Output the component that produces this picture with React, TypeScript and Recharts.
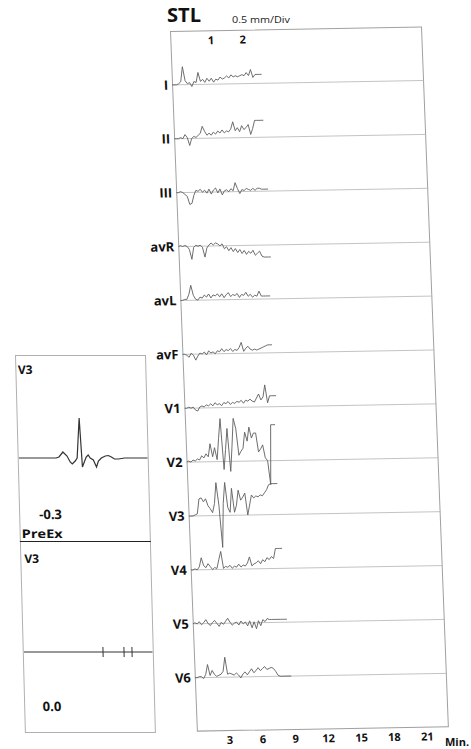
import { LineChart, Line, XAxis, YAxis, ReferenceLine } from 'recharts'

// ST level trend, one lane per lead. minutes shared by all leads.
const minutes = [
  0, 0.2, 0.4, 0.6, 0.8, 1, 1.2, 1.4, 1.6, 1.8, 2, 2.2, 2.4, 2.6, 2.8, 3, 3.2, 3.4, 3.6, 3.8, 4, 4.2,
  4.4, 4.6, 4.8, 5, 5.2, 5.4, 5.6, 5.8, 6, 6.2, 6.4, 6.6, 6.8, 7, 7.2, 7.4, 7.6, 7.8, 8, 8.2, 8.4,
  8.6, 8.8,
]
const leads = ['I', 'II', 'III', 'avR', 'avL', 'avF', 'V1', 'V2', 'V3', 'V4', 'V5', 'V6']

const leadI = [0, 0, 0, 1, 3, 18, 4, 1, 2, -2, 3, 2, 12, 3, 5, 2, 6, 3, 6, 2, 5, 4, 7, 5, 6, 8, 6, 9, 7, 8, 7, 8, 9, 8, 11, 8, 14, 6, 9, 9, 9, 9]
const leadII = [0, 0, 0, 1, 0, 4, 1, -7, 0, 2, 1, 3, 5, 12, 7, 3, 5, 3, 6, 4, 7, 5, 8, 5, 7, 6, 9, 16, 7, 10, 6, 12, 8, 10, 13, 3, 9, 17, 17, 17, 17, 17]
const leadIII = [0, 0, 1, 0, -2, -4, -12, -11, -3, 2, 1, 3, 0, 2, -1, 3, -2, 2, 4, -1, 3, -3, 1, 2, 0, 3, 1, 9, 3, -2, 2, 1, 3, 2, 1, 3, 1, 3, 3, 2, 2, 2, 2]
const leadAvR = [0, 1, 0, 1, 0, -3, -13, -1, 1, 0, 1, -1, -11, -2, 1, 3, 1, 3, 2, 0, 2, -3, -1, -5, -2, -6, -3, -7, -4, -8, -5, -9, -6, -8, -5, -10, -8, -6, -11, -12, -12, -12, -12]
const leadAvL = [0, 0, 1, 1, 6, 15, 5, 1, 0, 3, 2, 5, 3, 6, 2, 5, 4, 6, 3, 6, 2, 5, 7, 3, 5, 4, 6, 2, 5, 4, 7, 3, 5, 2, 4, 3, 8, 3, 3, 3, 3, 3]
const leadAvF = [0, 0, -1, -3, 1, -1, -6, -2, 1, 0, 2, -1, 3, 1, 2, 0, 3, 2, 5, 2, 4, 3, 5, 2, 4, 3, 6, 11, 2, 5, 7, 4, 3, 4, 3, 4, 5, 6, 7, 8, 8, 8]
const leadV1 = [0, 0, 1, 0, 1, -2, -3, 1, 2, 1, 3, 2, 4, 2, 5, 3, 4, 2, 5, 4, 6, 3, 5, 4, 6, 5, 7, 4, 7, 6, 8, 6, 5, 9, 13, 7, 10, 22, 4, 11, 11, 11, 11]
const leadV2 = [0, 1, 0, 2, 1, 3, 2, 6, 4, 8, 5, 18, 5, 14, 2, 23, 43, -8, 12, 33, -10, 15, 43, 33, 6, 10, 13, 29, 20, 34, 23, 28, 28, 9, 12, 16, 3, 0, -24, 36, 36, 36]
const leadV3 = [0, 0, 0, 1, 2, 17, 18, 14, 17, 10, 7, 3, 12, 33, 10, -32, 12, 33, 8, 3, 27, 3, 10, 25, 15, 18, 22, 0, 10, 20, 17, 19, 18, 20, 19, 22, 25, 30, 31, 31, 31, 31]
const leadV4 = [0, 0, 1, 0, 3, 12, 4, 2, 6, 3, 0, 2, 1, 10, 18, 1, 3, 2, 4, 1, 3, 2, 5, 2, 4, 3, 6, 12, 3, 5, 6, 8, 5, 9, 7, 11, 9, 12, 10, 20, 20, 20, 20]
const leadV5 = [0, 1, 0, 2, -1, 1, 4, 0, -2, 1, 3, 0, -3, 1, -1, 2, 5, 1, -2, 0, 1, -2, 2, -1, 1, -3, 2, -5, 1, -6, 2, -3, 3, 1, 4, 3, 3, 3, 3, 3, 3, 3, 3, 3]
const leadV6 = [0, 0, 1, 1, -1, 3, 13, 2, 7, 3, 1, 2, 3, 6, 20, 3, 4, 3, 2, 4, 2, -1, 3, 5, 2, 5, 8, 4, 6, 9, 6, 8, 10, 7, 8, 9, 8, 5, 1, 0, 0, 0, 0, 0, 0]
const traces = [leadI, leadII, leadIII, leadAvR, leadAvL, leadAvF, leadV1, leadV2, leadV3, leadV4, leadV5, leadV6]

const minuteTicks = [3, 6, 9, 12, 15, 18, 21]
const stageMinutes = [3.7, 6.6]
const stageLabels = ['1', '2']

// averaged V3 complex (left inset)
const beatMs = [0, 296, 320, 352, 384, 408, 424, 448, 464, 488, 504, 520, 536, 552, 568, 592, 616, 632, 656, 688, 712, 736, 760, 792, 840, 1024]
const beatMv = [0, 0, 0.04, 0.24, 0.08, -0.16, -0.24, -0.12, 0, 1.6, -0.36, -0.16, 0.04, 0.12, 0, -0.08, -0.36, -0.12, 0, 0.08, 0.1, 0.04, -0.04, -0.04, 0, 0]
const preExMs = [0, 1032]
const preExMv = [0, 0]
const preExMarks = [634, 802, 866]

const LANE = 54
const font = '"Open Sans", sans-serif'

const stlData = minutes.map((t, i) => {
  const row: Record<string, number | null> = { t }
  leads.forEach((lead, k) => {
    const v = traces[k][i]
    row[lead] = v === undefined ? null : v
  })
  return row
})
const beatData = beatMs.map((ms, i) => ({ ms, mv: beatMv[i] }))
const preExData = preExMs.map((ms, i) => ({ ms, mv: preExMv[i] }))

const labelStyle = { fill: '#111', fontSize: 13, fontWeight: 700 }

export default function App() {
  return (
    <div style={{ position: 'absolute', left: 0, top: 0, width: 471, height: 749, overflow: 'hidden', background: '#fff', fontFamily: font }}>
      <svg width={471} height={749} style={{ position: 'absolute', left: 0, top: 0 }}>
        <text x={167} y={22} fontSize={19} fontWeight={700} fill="#111" textLength={34} lengthAdjust="spacingAndGlyphs">STL</text>
        <text x={232} y={22.5} fontSize={8.5} fill="#222" textLength={58} lengthAdjust="spacingAndGlyphs">0.5 mm/Div</text>
        <text x={445} y={746} fontSize={11} fontWeight={700} fill="#111">Min.</text>
      </svg>

      {/* main trend panel, slightly skewed like the scan */}
      <div style={{ position: 'absolute', left: 138, top: 31, width: 286, height: 725, transform: 'rotate(-1deg) skewX(1.2deg)', transformOrigin: '32px 0px' }}>
        <div style={{ position: 'absolute', left: 32, top: 0, width: 252, height: 701, border: '1px solid #a0a0a0', boxSizing: 'border-box' }} />
        <div style={{ position: 'absolute', left: 0, top: 0 }}>
          <LineChart width={286} height={725} data={stlData} margin={{ top: 0, right: 2, bottom: 0, left: 32 }}>
            <XAxis
              dataKey="t"
              type="number"
              domain={[0, 23]}
              ticks={minuteTicks}
              interval={0}
              allowDataOverflow
              axisLine={false}
              tickLine={false}
              tickSize={2}
              tickMargin={3}
              height={24}
              tick={{ fontSize: 11, fontWeight: 700, fill: '#111' }}
            />
            {leads.map((lead, k) => (
              <YAxis key={lead} yAxisId={lead} hide type="number" domain={[-(12 - k) * LANE, (k + 1) * LANE]} allowDataOverflow />
            ))}
            {leads.map((lead) => (
              <ReferenceLine
                key={'b' + lead}
                yAxisId={lead}
                y={0}
                stroke="#b5b5b5"
                strokeWidth={0.8}
                label={{ value: lead, position: 'left', offset: 4, ...labelStyle }}
              />
            ))}
            {stageMinutes.map((m, i) => (
              <ReferenceLine
                key={'s' + i}
                yAxisId="I"
                x={m}
                stroke="none"
                label={{ value: stageLabels[i], position: 'insideTop', offset: 6, fill: '#111', fontSize: 11, fontWeight: 700 }}
              />
            ))}
            {leads.map((lead) => (
              <Line
                key={lead}
                yAxisId={lead}
                dataKey={lead}
                type="linear"
                stroke="#606060"
                strokeWidth={0.9}
                dot={false}
                isAnimationActive={false}
              />
            ))}
          </LineChart>
        </div>
      </div>

      {/* left inset: averaged complex and pre-exercise reference */}
      <div style={{ position: 'absolute', left: 15, top: 355, width: 131, height: 378, border: '1px solid #b0b0b0', boxSizing: 'border-box', transform: 'skewX(1.5deg)', transformOrigin: '0 0' }}>
        <div style={{ position: 'absolute', left: 0, top: 0 }}>
          <LineChart width={129} height={186} data={beatData} margin={{ top: 0, right: 0, bottom: 0, left: 0 }}>
            <XAxis dataKey="ms" type="number" domain={[0, 1024]} hide allowDataOverflow />
            <YAxis type="number" domain={[-3.36, 4.08]} hide allowDataOverflow />
            <Line dataKey="mv" type="linear" stroke="#333" strokeWidth={1.2} dot={false} isAnimationActive={false} />
          </LineChart>
        </div>
        <div style={{ position: 'absolute', left: -1, right: -1, top: 185, borderTop: '1.5px solid #222' }} />
        <div style={{ position: 'absolute', left: 0, top: 186 }}>
          <LineChart width={129} height={191} data={preExData} margin={{ top: 0, right: 0, bottom: 0, left: 0 }}>
            <XAxis dataKey="ms" type="number" domain={[0, 1032]} hide allowDataOverflow />
            <YAxis type="number" domain={[-3.24, 4.4]} hide allowDataOverflow />
            {preExMarks.map((m) => (
              <ReferenceLine key={m} segment={[{ x: m, y: -0.2 }, { x: m, y: 0.2 }]} stroke="#333" strokeWidth={1} />
            ))}
            <Line dataKey="mv" type="linear" stroke="#333" strokeWidth={1.2} dot={false} isAnimationActive={false} />
          </LineChart>
        </div>
        <svg width={131} height={378} style={{ position: 'absolute', left: 0, top: 0, overflow: 'visible' }}>
          <text x={1.5} y={18.5} fontSize={12} fontWeight={700} fill="#111">V3</text>
          <text x={19} y={163} fontSize={13} fontWeight={700} fill="#111">-0.3</text>
          <text x={1} y={182} fontSize={12} fontWeight={700} fill="#111" textLength={41} lengthAdjust="spacingAndGlyphs">PreEx</text>
          <text x={3} y={207} fontSize={12} fontWeight={700} fill="#111">V3</text>
          <text x={17.5} y={355} fontSize={13} fontWeight={700} fill="#111">0.0</text>
        </svg>
      </div>
    </div>
  )
}
